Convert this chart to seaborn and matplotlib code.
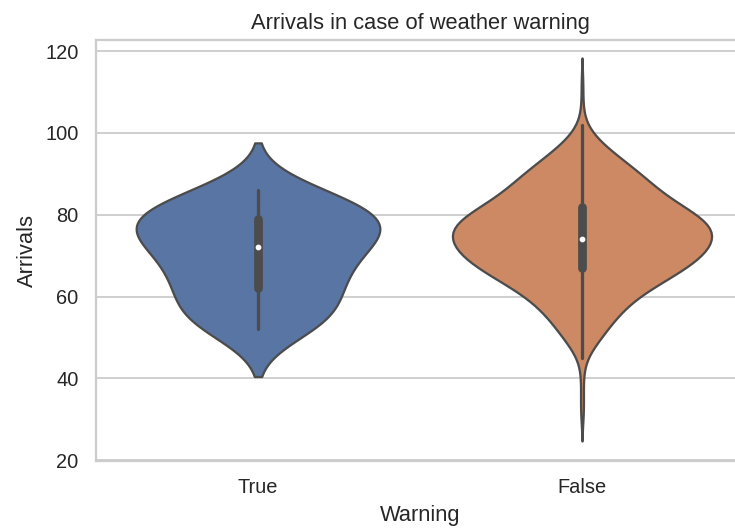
import matplotlib.pyplot as plt
import numpy as np
import pandas as pd
import seaborn as sns

# categories on the x axis, in plotting order
CATEGORIES = ["True", "False"]

# arrivals on days with a weather warning (few days)
ARRIVALS_WARNING = [
    52, 53, 55, 57, 60, 62, 64, 66, 68, 70, 72,
    74, 75, 76, 77, 79, 80, 81, 82, 84, 86,
]

# arrivals on days without warning, stored as value -> number of days
ARRIVALS_NORMAL_VALUES = [
    31, 34, 38, 42, 45, 46, 47, 48, 49, 50, 51, 52, 53, 54, 55, 56, 57, 58,
    59, 60, 61, 62, 63, 64, 65, 66, 67, 68, 69, 70, 71, 72, 73, 74, 75,
    76, 77, 78, 79, 80, 81, 82, 83, 84, 85, 86, 87, 88, 89, 90, 91, 92,
    93, 94, 95, 96, 97, 98, 99, 100, 101, 102, 106, 112,
]
ARRIVALS_NORMAL_COUNTS = [
    1, 1, 1, 1, 1, 1, 2, 2, 3, 4, 4, 5, 5, 6, 6, 7, 8, 9,
    9, 10, 11, 13, 14, 16, 17, 18, 19, 21, 22, 23, 23, 24, 24, 25, 25,
    25, 25, 24, 23, 22, 20, 19, 17, 16, 15, 14, 13, 13, 12, 11, 10, 9,
    8, 7, 6, 5, 4, 3, 2, 2, 1, 1, 1, 1,
]

TITLE = "Arrivals in case of weather warning"
X_LABEL = "Warning"
Y_LABEL = "Arrivals"
Y_LIMITS = (19.8, 122.7)


def build_frame() -> pd.DataFrame:
    normal = np.repeat(ARRIVALS_NORMAL_VALUES, ARRIVALS_NORMAL_COUNTS)
    df = pd.DataFrame({
        "Warning": [CATEGORIES[0]] * len(ARRIVALS_WARNING) + [CATEGORIES[1]] * len(normal),
        "Arrivals": np.concatenate([ARRIVALS_WARNING, normal]).astype(float),
    })
    return df


def main() -> None:
    df = build_frame()

    sns.set_theme(style="whitegrid")
    plt.rcParams["font.family"] = ["Liberation Sans", "DejaVu Sans"]

    dpi = 131
    fig = plt.figure(figsize=(735 / dpi, 529 / dpi), dpi=dpi)
    # axes runs a little past the right edge, like the cropped original
    ax = fig.add_axes([96 / 735, 68 / 529, 648 / 735, 421 / 529])

    # common_norm: violin widths scaled by density across both groups
    sns.violinplot(
        data=df, x="Warning", y="Arrivals",
        hue="Warning", order=CATEGORIES, hue_order=CATEGORIES,
        palette="deep", legend=False, common_norm=True,
        inner_kws=dict(box_width=4.8, whis_width=1.8,
                       marker="o", markersize=2.2),
        ax=ax,
    )
    ax.set_ylim(*Y_LIMITS)
    ax.set_title(TITLE)
    ax.set_xlabel(X_LABEL)
    ax.set_ylabel(Y_LABEL)

    fig.savefig("out.png", dpi=dpi)
    plt.close(fig)


if __name__ == "__main__":
    main()
